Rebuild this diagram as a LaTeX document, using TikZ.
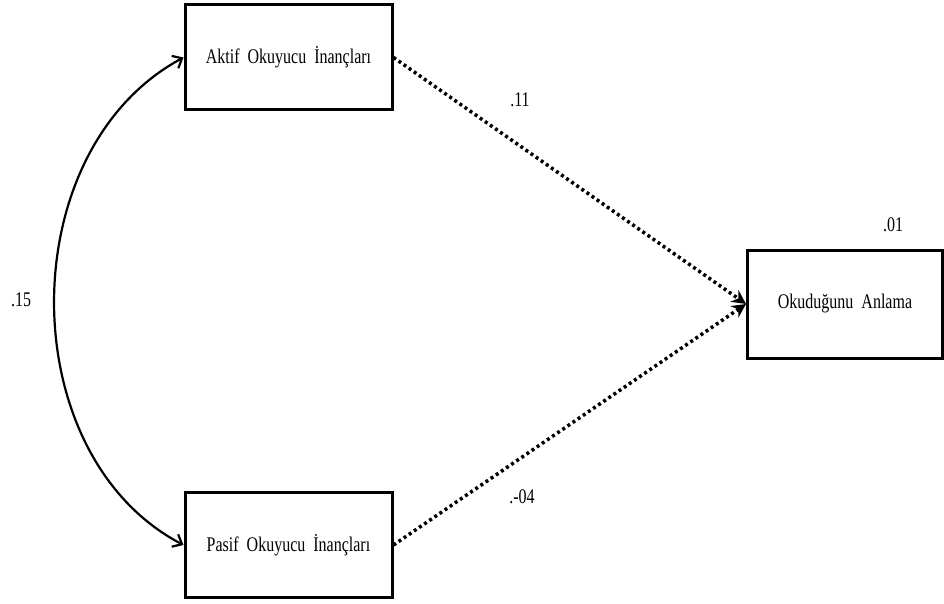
\documentclass[tikz,border=0pt]{standalone}
\usepackage{fontspec}
\setmainfont{Liberation Serif}
\usetikzlibrary{arrows.meta}
\begin{document}
\begin{tikzpicture}[x=1pt,y=-1pt,
  boxnode/.style={draw,line width=3pt,minimum width=207pt,minimum height=105pt,inner sep=0pt,font=\fontsize{16}{16}\selectfont},
  lbl/.style={font=\fontsize{16}{16}\selectfont,inner sep=0pt},
  dotpath/.style={line width=3.5pt,dash pattern=on 3pt off 3.2pt,-{Stealth[length=14pt,width=14pt]}},
  corr/.style={line width=2.2pt,{Straight Barb[length=8pt,width=14pt]}-{Straight Barb[length=8pt,width=14pt]}}]
\useasboundingbox (0,0) rectangle (944,604);
\node[boxnode] (akt) at (288.5,57.5) {\scalebox{1}[1.3]{Aktif\ \ Okuyucu\ \ İnançları}};
\node[boxnode] (pas) at (288.5,545) {\scalebox{1}[1.3]{Pasif\ \ Okuyucu\ \ İnançları}};
\node[boxnode,minimum width=195pt,minimum height=108pt] (oku) at (845,304) {\scalebox{1}[1.3]{Okuduğunu\ \ Anlama}};
\draw[dotpath] (akt.east) -- (oku.west);
\draw[dotpath] (pas.east) -- (oku.west);
\draw[corr] (akt.west) .. controls (11.7,150) and (11.7,455) .. (pas.west);
\node[lbl] (l11) at (520,100) {\scalebox{1}[1.3]{.11}};
\node[lbl] (l04) at (522,497) {\scalebox{1}[1.3]{.-04}};
\node[lbl] (l01) at (893,225) {\scalebox{1}[1.3]{.01}};
\node[lbl] (l15) at (21,300) {\scalebox{1}[1.3]{.15}};
\end{tikzpicture}
\end{document}
